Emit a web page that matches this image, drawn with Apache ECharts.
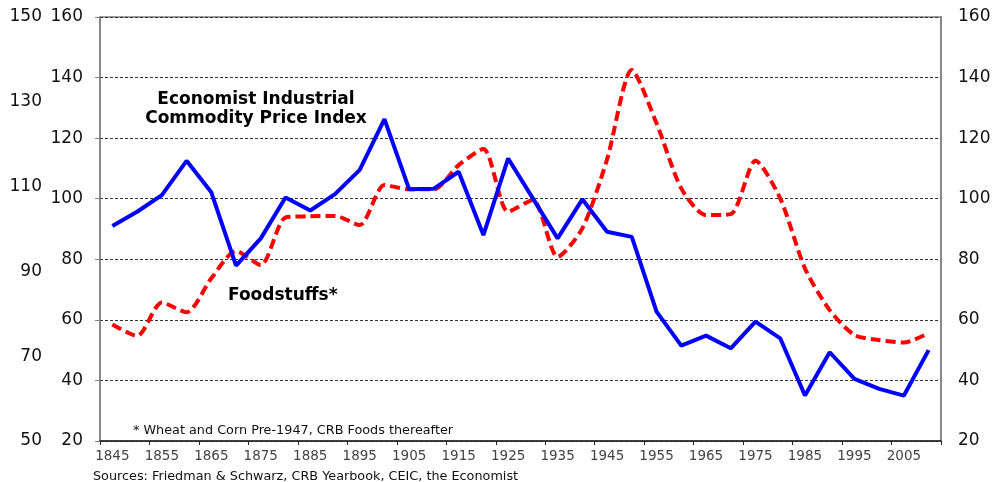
<!DOCTYPE html>
<html>
<head>
<meta charset="utf-8">
<script src="https://cdn.jsdelivr.net/npm/echarts@6/dist/echarts.min.js"></script>
<style>html,body{margin:0;padding:0;background:#fff;}#c{width:996px;height:482px;}</style>
</head>
<body>
<div id="c"></div>
<script>
const years = ['1845','1850','1855','1860','1865','1870','1875','1880','1885','1890','1895','1900','1905','1910','1915','1920','1925','1930','1935','1940','1945','1950','1955','1960','1965','1970','1975','1980','1985','1990','1995','2000','2005','2010'];
const industrial = [91.0, 95.7, 101.2, 112.5, 102.1, 77.9, 86.9, 100.4, 96.1, 101.5, 109.5, 126.3, 103.1, 103.3, 108.9, 88.0, 113.3, 100.1, 86.9, 99.8, 89.1, 87.4, 62.7, 51.5, 54.8, 50.6, 59.4, 53.9, 35.0, 49.3, 40.5, 37.2, 35.0, 50.0];
const foodstuffs = [58.5, 54.7, 65.7, 62.5, 73.7, 82.7, 78.1, 93.8, 94.2, 94.3, 91.3, 104.5, 103.1, 103.1, 111.1, 116.4, 95.7, 99.6, 80.8, 90.2, 113.0, 142.5, 124.9, 103.4, 94.6, 94.9, 112.5, 100.1, 77.0, 63.2, 55.0, 53.3, 52.5, 55.6];
const labelIndustrial = ['Economist Industrial', 'Commodity Price Index'];
const labelFood = 'Foodstuffs*';
const footnote = '* Wheat and Corn Pre-1947, CRB Foods thereafter';
const sources = 'Sources: Friedman & Schwarz, CRB Yearbook, CEIC, the Economist';

const FONT = 'DejaVu Sans';
const chart = echarts.init(document.getElementById('c'), null, {renderer: 'canvas'});
chart.setOption({
  animation: false,
  backgroundColor: '#fff',
  grid: {left: 100, right: 55, top: 17, bottom: 41, show: true, borderColor: '#808080', borderWidth: 1.5, containLabel: false},
  xAxis: {
    type: 'category', data: years, boundaryGap: true,
    axisLine: {lineStyle: {color: '#222', width: 1.5}},
    axisTick: {show: true, length: 4, interval: 1, lineStyle: {color: '#222'}},
    axisLabel: {interval: 1, color: '#444', fontFamily: FONT, fontSize: 13.5, margin: 8}
  },
  yAxis: [
    {type: 'value', position: 'left', min: 20, max: 160, interval: 20,
     axisLine: {show: true, lineStyle: {color: '#808080', width: 1.5}},
     axisTick: {show: true, length: 5, lineStyle: {color: '#808080'}},
     axisLabel: {color: '#111', fontFamily: FONT, fontSize: 17, margin: 17},
     splitLine: {show: true, lineStyle: {color: '#333', width: 1, type: [3, 2]}}},
    {type: 'value', position: 'right', min: 20, max: 160, interval: 20,
     axisLine: {show: true, lineStyle: {color: '#808080', width: 1.5}},
     axisTick: {show: false},
     axisLabel: {color: '#111', fontFamily: FONT, fontSize: 17, margin: 17},
     splitLine: {show: false}},
    {type: 'value', position: 'left', offset: 41, min: 50, max: 150, interval: 20,
     axisLine: {show: false}, axisTick: {show: false},
     axisLabel: {color: '#111', fontFamily: FONT, fontSize: 17, margin: 17},
     splitLine: {show: false}}
  ],
  series: [
    {type: 'line', name: 'Foodstuffs', data: foodstuffs, yAxisIndex: 0, smooth: 0.25,
     symbol: 'none', lineStyle: {color: '#ff0000', width: 4, type: [10, 5]}, z: 3},
    {type: 'line', name: 'Industrial', data: industrial, yAxisIndex: 0,
     symbol: 'none', lineStyle: {color: '#0000ff', width: 4}, z: 4}
  ],
  graphic: [
    {type: 'text', position: [256, 100], style: {text: labelIndustrial[0], align: 'center', verticalAlign: 'middle', font: 'bold 17px "DejaVu Sans"', fill: '#000'}, silent: true},
    {type: 'text', position: [256, 119], style: {text: labelIndustrial[1], align: 'center', verticalAlign: 'middle', font: 'bold 17px "DejaVu Sans"', fill: '#000'}, silent: true},
    {type: 'text', position: [228, 296], style: {text: labelFood, align: 'left', verticalAlign: 'middle', font: 'bold 17px "DejaVu Sans"', fill: '#000'}, silent: true},
    {type: 'text', position: [133, 431], style: {text: footnote, align: 'left', verticalAlign: 'middle', font: '12.8px "DejaVu Sans"', fill: '#111'}, silent: true},
    {type: 'text', position: [93, 477], style: {text: sources, align: 'left', verticalAlign: 'middle', font: '12.8px "DejaVu Sans"', fill: '#111'}, silent: true}
  ]
});
</script>
</body>
</html>
